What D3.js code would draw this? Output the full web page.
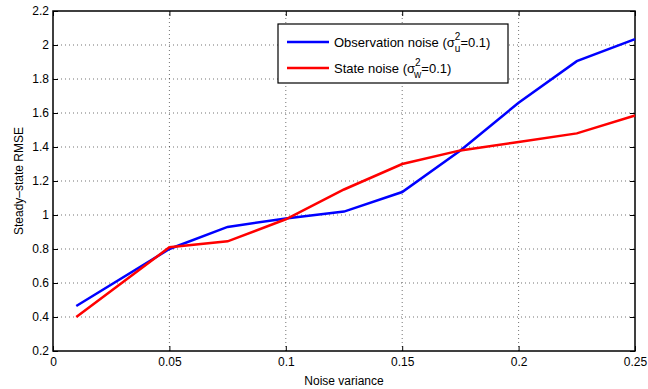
<!DOCTYPE html>
<html>
<head>
<meta charset="utf-8">
<script src="https://cdn.jsdelivr.net/npm/d3@7"></script>
<style>
  body { margin: 0; background: #fff; }
  text { font-family: "Liberation Sans", Arial, sans-serif; }
  .grid line { stroke: #000; stroke-opacity: 0.55; stroke-dasharray: 1 3; }
</style>
</head>
<body>
<svg id="chart" width="648" height="389"></svg>
<script>
// data
let noiseVar = [0.01, 0.05, 0.075, 0.1, 0.125, 0.15, 0.175, 0.2, 0.225, 0.25];
let obsNoise = [0.465, 0.80, 0.93, 0.98, 1.02, 1.135, 1.38, 1.66, 1.905, 2.035];
let stateNoise = [0.40, 0.81, 0.845, 0.975, 1.15, 1.30, 1.38, 1.43, 1.48, 1.585];
let xTicks = [0, 0.05, 0.1, 0.15, 0.2, 0.25];
let yTicks = [0.2, 0.4, 0.6, 0.8, 1, 1.2, 1.4, 1.6, 1.8, 2, 2.2];

let svg = d3.select("#chart");
let margin = {left: 53, right: 13, top: 11, bottom: 38};
let width = +svg.attr("width"), height = +svg.attr("height");
let x0 = margin.left, x1 = width - margin.right;
let y0 = height - margin.bottom, y1 = margin.top;

let x = d3.scaleLinear().domain([0, 0.25]).range([x0, x1]);
let y = d3.scaleLinear().domain([0.2, 2.2]).range([y0, y1]);

// dotted grid
let grid = svg.append("g").attr("class", "grid");
grid.selectAll(".gx").data(xTicks.slice(1, -1)).enter().append("line")
    .attr("x1", d => x(d)).attr("x2", d => x(d)).attr("y1", y0).attr("y2", y1);
grid.selectAll(".gy").data(yTicks.slice(1, -1)).enter().append("line")
    .attr("y1", d => y(d)).attr("y2", d => y(d)).attr("x1", x0).attr("x2", x1);

// axes, ticks inside like matlab
let fmt = d => String(d);
svg.append("g").attr("transform", "translate(0," + y0 + ")")
    .call(d3.axisBottom(x).tickValues(xTicks).tickSizeInner(-5).tickSizeOuter(0).tickPadding(6).tickFormat(fmt));
svg.append("g").attr("transform", "translate(0," + y1 + ")")
    .call(d3.axisTop(x).tickValues(xTicks).tickSizeInner(-5).tickSizeOuter(0).tickFormat(""));
svg.append("g").attr("transform", "translate(" + x0 + ",0)")
    .call(d3.axisLeft(y).tickValues(yTicks).tickSizeInner(-5).tickSizeOuter(0).tickPadding(4).tickFormat(fmt));
svg.append("g").attr("transform", "translate(" + x1 + ",0)")
    .call(d3.axisRight(y).tickValues(yTicks).tickSizeInner(-5).tickSizeOuter(0).tickFormat(""));
svg.selectAll(".domain").remove();
svg.selectAll(".tick line").attr("stroke", "#000");
svg.selectAll(".tick text").attr("font-size", 12).attr("fill", "#000")
    .style("font-family", "'Liberation Sans', Arial, sans-serif");

svg.append("rect").attr("x", x0).attr("y", y1).attr("width", x1 - x0).attr("height", y0 - y1)
    .attr("fill", "none").attr("stroke", "#000").attr("stroke-width", 1.5);

// lines
let line = d3.line().x((d, i) => x(noiseVar[i])).y(d => y(d));
svg.append("path").datum(obsNoise).attr("d", line)
    .attr("fill", "none").attr("stroke", "#0000ff").attr("stroke-width", 2.5);
svg.append("path").datum(stateNoise).attr("d", line)
    .attr("fill", "none").attr("stroke", "#ff0000").attr("stroke-width", 2.5);

// axis labels
svg.append("text").attr("x", (x0 + x1) / 2).attr("y", 385).attr("text-anchor", "middle")
    .attr("font-size", 12).text("Noise variance");
svg.append("text").attr("transform", "translate(23," + (y0 + y1) / 2 + ") rotate(-90)")
    .attr("text-anchor", "middle").attr("font-size", 12).text("Steady\u2013state RMSE");

// legend
let leg = svg.append("g").attr("transform", "translate(278,24)");
leg.append("rect").attr("width", 230).attr("height", 59)
    .attr("fill", "#fff").attr("stroke", "#000").attr("stroke-width", 1.2);
let items = [{c: "#0000ff", label: "Observation noise (", sub: "u"}, {c: "#ff0000", label: "State noise (", sub: "w"}];
items.forEach((d, i) => {
    let yy = 18 + i * 26;
    leg.append("line").attr("x1", 9).attr("x2", 51).attr("y1", yy).attr("y2", yy)
        .attr("stroke", d.c).attr("stroke-width", 2.5);
    let t = leg.append("text").attr("x", 56).attr("y", yy + 5).attr("font-size", 13);
    t.append("tspan").text(d.label + "\u03c3");
    t.append("tspan").attr("dy", -7).attr("font-size", 10).text("2");
    t.append("tspan").attr("dx", d.sub === "w" ? -6.5 : -5.5).attr("dy", 12).attr("font-size", 10).text(d.sub);
    t.append("tspan").attr("dy", -5).text("=0.1)");
});
</script>
</body>
</html>
